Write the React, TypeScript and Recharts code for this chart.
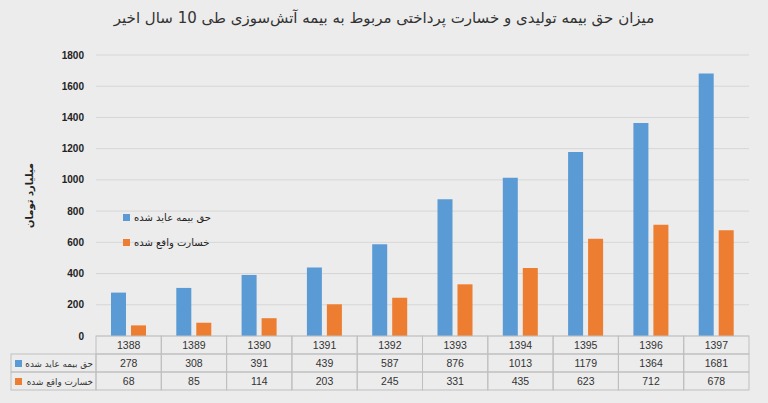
import React from "react";
import { BarChart, Bar, XAxis, YAxis, CartesianGrid, Legend, Label } from "recharts";

// Years (Persian calendar)
const years: string[] = ["1388", "1389", "1390", "1391", "1392", "1393", "1394", "1395", "1396", "1397"];
// Earned premium (billion toman)
const premium: number[] = [278, 308, 391, 439, 587, 876, 1013, 1179, 1364, 1681];
// Incurred losses (billion toman)
const losses: number[] = [68, 85, 114, 203, 245, 331, 435, 623, 712, 678];
const yTicks: number[] = [0, 200, 400, 600, 800, 1000, 1200, 1400, 1600, 1800];

const premiumName = "حق بیمه عاید شده";
const lossName = "خسارت واقع شده";
const title = "میزان حق بیمه تولیدی و خسارت پرداختی مربوط به بیمه آتش‌سوزی طی 10 سال اخیر";

const data = years.map((y, i) => ({ year: y, premium: premium[i], loss: losses[i] }));

const W = 768;
const H = 403;
const margin = { top: 55, right: 19, left: 0, bottom: 13 };
const Y_AXIS_W = 96;
const PLOT_W = W - margin.right - margin.left - Y_AXIS_W;
const CELL_W = PLOT_W / years.length;
const ROW_H = 18;
const BLUE = "#5b9bd5";
const ORANGE = "#ed7d31";
const BORDER = "#bfbfbf";
const numFont = "'Liberation Sans', Arial, sans-serif";
const faFont = "'DejaVu Sans', sans-serif";

// draws one column of the data table under each category
const TableTick = (props: any) => {
  const { x, y, payload, index } = props;
  const i = index ?? payload.index;
  const left = x - CELL_W / 2;
  const rows = [payload.value, String(premium[i]), String(losses[i])];
  return (
    <g>
      {rows.map((t, r) => (
        <g key={r}>
          <rect x={left} y={y + r * ROW_H} width={CELL_W} height={ROW_H} fill="none" stroke={BORDER} strokeWidth={1} />
          <text x={x} y={y + r * ROW_H + ROW_H / 2 + 4} textAnchor="middle" fontSize={10.5} fill="#333" fontFamily={numFont}>
            {t}
          </text>
        </g>
      ))}
      {i === 0 && (
        <g>
          {[
            { name: premiumName, color: BLUE },
            { name: lossName, color: ORANGE },
          ].map((s, r) => (
            <g key={s.name}>
              <rect x={11} y={y + (r + 1) * ROW_H} width={left - 11} height={ROW_H} fill="none" stroke={BORDER} strokeWidth={1} />
              <rect x={15} y={y + (r + 1) * ROW_H + 6} width={7} height={7} fill={s.color} />
              <text x={left - 3} y={y + (r + 1) * ROW_H + ROW_H / 2 + 4} textAnchor="end" fontSize={8.8} fill="#333" fontFamily={faFont}>
                {s.name}
              </text>
            </g>
          ))}
        </g>
      )}
    </g>
  );
};

const LegendBox = () => (
  <div style={{ fontFamily: faFont, fontSize: 10, color: "#222", direction: "ltr" }}>
    {[
      { name: premiumName, color: BLUE },
      { name: lossName, color: ORANGE },
    ].map((s) => (
      <div key={s.name} style={{ display: "flex", alignItems: "center", height: 25 }}>
        <span style={{ width: 7, height: 7, background: s.color, marginRight: 4, display: "inline-block" }} />
        <span>{s.name}</span>
      </div>
    ))}
  </div>
);

export default function App() {
  return (
    <div style={{ position: "absolute", left: 0, top: 0, width: W, height: H, background: "#ececec" }}>
      <div
        style={{
          position: "absolute",
          top: 9,
          width: W,
          textAlign: "center",
          fontFamily: faFont,
          fontSize: 15,
          color: "#333",
          direction: "rtl",
        }}
      >
        {title}
      </div>
      <BarChart width={W} height={H} data={data} margin={margin} barSize={15} barGap={5}>
        <CartesianGrid vertical={false} stroke="#d6d6d6" />
        <XAxis
          dataKey="year"
          height={54}
          axisLine={false}
          tickLine={false}
          tickSize={0}
          tickMargin={0}
          interval={0}
          tick={<TableTick />}
        />
        <YAxis
          width={Y_AXIS_W}
          domain={[0, 1800]}
          ticks={yTicks}
          axisLine={false}
          tickLine={false}
          tick={{ fontSize: 10, fill: "#222", fontWeight: "bold", fontFamily: numFont }}
          tickMargin={6}
        >
          <Label
            value="میلیارد تومان"
            angle={-90}
            position="insideLeft"
            offset={29}
            style={{ fontFamily: faFont, fontSize: 10, fontWeight: "bold", fill: "#222", textAnchor: "middle" }}
          />
        </YAxis>
        <Legend
          layout="vertical"
          align="center"
          verticalAlign="middle"
          content={<LegendBox />}
          wrapperStyle={{ left: 123, top: 205, width: 120 }}
        />
        <Bar dataKey="premium" name={premiumName} fill={BLUE} isAnimationActive={false} />
        <Bar dataKey="loss" name={lossName} fill={ORANGE} isAnimationActive={false} />
      </BarChart>
    </div>
  );
}
